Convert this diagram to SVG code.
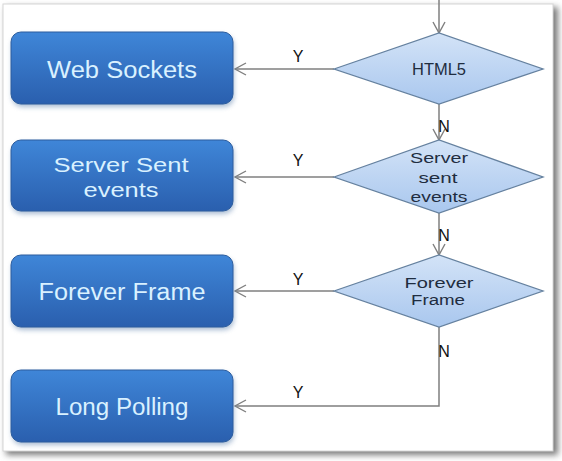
<svg xmlns="http://www.w3.org/2000/svg" width="562" height="461" viewBox="0 0 562 461">
<defs>
<linearGradient id="boxg" x1="0" y1="0" x2="0" y2="1">
<stop offset="0" stop-color="#3f86d8"/>
<stop offset="1" stop-color="#2a5fae"/>
</linearGradient>
<linearGradient id="diag" x1="0" y1="0" x2="0" y2="1">
<stop offset="0" stop-color="#d3e3f7"/>
<stop offset="1" stop-color="#a9c7ee"/>
</linearGradient>
<filter id="sh" x="-10%" y="-10%" width="120%" height="130%">
<feGaussianBlur stdDeviation="2.5"/>
</filter>
<filter id="fsh" x="-5%" y="-5%" width="110%" height="110%">
<feGaussianBlur stdDeviation="3"/>
</filter>
<marker id="arr" markerWidth="14" markerHeight="14" refX="12.5" refY="7" orient="auto" markerUnits="userSpaceOnUse" viewBox="0 0 14 14" overflow="visible">
<path d="M1.5,1 L12.5,7 L1.5,13" fill="none" stroke="#7f7f7f" stroke-width="1.4"/>
</marker>
</defs>
<style>
.box{fill:url(#boxg);stroke:#2c5d9e;stroke-width:1}
.bsh{fill:#6f8fb5;opacity:0.6;filter:url(#sh)}
.btxt{font-family:"Liberation Sans",Arial,sans-serif;font-size:23px;fill:#d9f1ff;text-anchor:middle}
.b2{font-size:21px}
.dia{fill:url(#diag);stroke:#65819f;stroke-width:1.3}
.dtxt{font-family:"Liberation Sans",Arial,sans-serif;font-size:16px;fill:#1f2d40;text-anchor:middle}
.d2{font-size:15px}
.d3{font-size:14px}
.con{fill:none;stroke:#7f7f7f;stroke-width:1.5}
.lbl{font-family:"Liberation Sans",Arial,sans-serif;font-size:16px;fill:#111;text-anchor:middle}
</style>
<rect x="0" y="0" width="562" height="461" fill="#ffffff"/>
<rect x="6" y="7" width="552" height="448" fill="#7a7a7a" filter="url(#fsh)"/>
<rect x="3" y="4" width="550" height="447" fill="#ffffff" stroke="#d6d6d6" stroke-width="1"/>

<g id="connectors">
<path class="con" d="M439,0 L439,33" marker-end="url(#arr)"/>
<path class="con" d="M334,69 L235,69" marker-end="url(#arr)"/>
<path class="con" d="M439,104 L439,140" marker-end="url(#arr)"/>
<path class="con" d="M334,177 L235,177" marker-end="url(#arr)"/>
<path class="con" d="M439,213 L439,255" marker-end="url(#arr)"/>
<path class="con" d="M334,291 L235,291" marker-end="url(#arr)"/>
<path class="con" d="M439,327 L439,406 L235,406" marker-end="url(#arr)"/>
<text class="lbl" x="298" y="62">Y</text>
<text class="lbl" x="298" y="166">Y</text>
<text class="lbl" x="298" y="285">Y</text>
<text class="lbl" x="298" y="398">Y</text>
<text class="lbl" x="444" y="132">N</text>
<text class="lbl" x="444" y="241">N</text>
<text class="lbl" x="444" y="357">N</text>
</g>

<g id="web-sockets">
<rect class="bsh" x="12" y="35" width="222" height="72" rx="10"/>
<rect class="box" x="11" y="32" width="222" height="72" rx="10"/>
<text class="btxt" x="122" y="78" textLength="150" lengthAdjust="spacingAndGlyphs">Web Sockets</text>
</g>
<g id="server-sent-events">
<rect class="bsh" x="12" y="143" width="222" height="71" rx="10"/>
<rect class="box" x="11" y="140" width="222" height="71" rx="10"/>
<text class="btxt b2" x="121" y="172" textLength="135" lengthAdjust="spacingAndGlyphs">Server Sent</text>
<text class="btxt b2" x="121" y="197" textLength="75" lengthAdjust="spacingAndGlyphs">events</text>
</g>
<g id="forever-frame">
<rect class="bsh" x="12" y="258" width="222" height="72" rx="10"/>
<rect class="box" x="11" y="255" width="222" height="72" rx="10"/>
<text class="btxt" x="122" y="300" textLength="167" lengthAdjust="spacingAndGlyphs">Forever Frame</text>
</g>
<g id="long-polling">
<rect class="bsh" x="12" y="373" width="222" height="72" rx="10"/>
<rect class="box" x="11" y="370" width="222" height="72" rx="10"/>
<text class="btxt" x="122" y="415" textLength="133" lengthAdjust="spacingAndGlyphs">Long Polling</text>
</g>

<g id="html5">
<polygon class="dia" points="334,69 439,33 543,69 439,104"/>
<text class="dtxt" x="439" y="75" textLength="54" lengthAdjust="spacingAndGlyphs">HTML5</text>
</g>
<g id="server-sent">
<polygon class="dia" points="334,177 439,140 543,177 439,213"/>
<text class="dtxt d2" x="439" y="163" textLength="58" lengthAdjust="spacingAndGlyphs">Server</text>
<text class="dtxt d2" x="438" y="183" textLength="39" lengthAdjust="spacingAndGlyphs">sent</text>
<text class="dtxt d2" x="439" y="202" textLength="57" lengthAdjust="spacingAndGlyphs">events</text>
</g>
<g id="forever">
<polygon class="dia" points="334,291 439,255 543,291 439,327"/>
<text class="dtxt d3" x="439" y="288" textLength="69" lengthAdjust="spacingAndGlyphs">Forever</text>
<text class="dtxt d3" x="438" y="305" textLength="54" lengthAdjust="spacingAndGlyphs">Frame</text>
</g>
</svg>
